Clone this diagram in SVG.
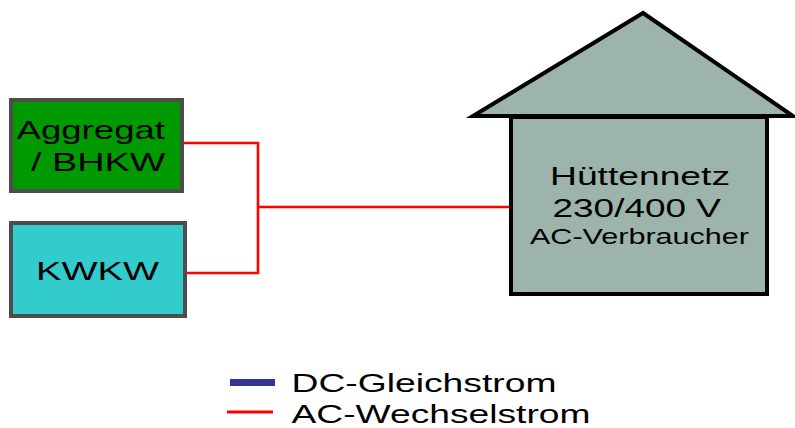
<svg xmlns="http://www.w3.org/2000/svg" width="795" height="428" viewBox="0 0 795 428">
<style>
text{font-family:"Liberation Sans",Arial,sans-serif;fill:#000}
.box{stroke:#4d4d4d;stroke-width:4}
.house{fill:#9cb4ac;stroke:#000;stroke-width:4}
.ac{fill:none;stroke:#ff0000;stroke-width:2.6}
.t{font-size:26px}
</style>
<rect width="795" height="428" fill="#fff"/>
<g id="connectors">
<path class="ac" d="M184 143H258V273H187"/>
<path class="ac" d="M258 207H510"/>
</g>
<g id="aggregat">
<rect class="box" x="11" y="100" width="171" height="91" fill="#009900"/>
<text class="t" x="16.500" y="139" textLength="148.500" lengthAdjust="spacingAndGlyphs">Aggregat</text>
<text class="t" x="31" y="171" textLength="134.500" lengthAdjust="spacingAndGlyphs">/ BHKW</text>
</g>
<g id="kwkw">
<rect class="box" x="11" y="223" width="174" height="93" fill="#33cccc"/>
<text class="t" x="36" y="280" textLength="123" lengthAdjust="spacingAndGlyphs">KWKW</text>
</g>
<g id="huettennetz">
<rect class="house" x="511" y="117" width="256" height="177"/>
<path class="house" d="M643 13L473 116H793Z"/>
<text class="t" x="550" y="185" textLength="180" lengthAdjust="spacingAndGlyphs">Hüttennetz</text>
<text class="t" x="552.500" y="217" textLength="168.500" lengthAdjust="spacingAndGlyphs">230/400 V</text>
<text x="530" y="244" font-size="22.500" textLength="219" lengthAdjust="spacingAndGlyphs">AC-Verbraucher</text>
</g>
<g id="legend-dc">
<rect x="230" y="379" width="45" height="7" fill="#333399"/>
<text class="t" x="291.500" y="392" textLength="265" lengthAdjust="spacingAndGlyphs">DC-Gleichstrom</text>
</g>
<g id="legend-ac">
<path d="M227 412H273" stroke="#ff0000" stroke-width="3" fill="none"/>
<text class="t" x="291.500" y="423" textLength="299" lengthAdjust="spacingAndGlyphs">AC-Wechselstrom</text>
</g>
</svg>
